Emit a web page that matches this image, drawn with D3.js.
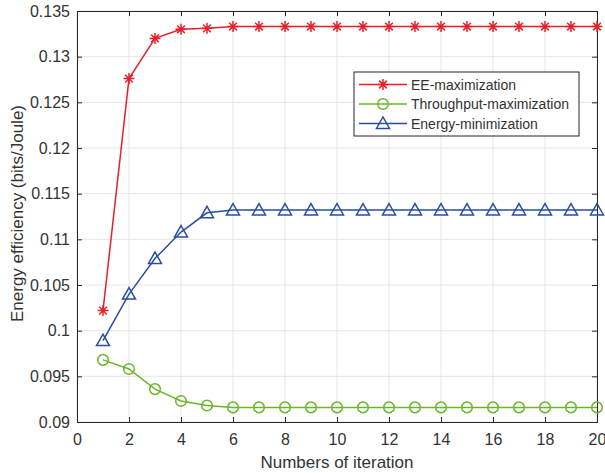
<!DOCTYPE html>
<html><head><meta charset="utf-8">
<script src="https://cdn.jsdelivr.net/npm/d3@7"></script>
<style>body{margin:0;background:#fff;} text{font-family:Arial,"Liberation Sans",sans-serif;}</style>
</head><body>
<svg id="c" width="605" height="473"></svg>
<script>
const iterations = d3.range(1, 21);
const eeMax = [0.1022, 0.1276, 0.1320, 0.1330, 0.1331, 0.1333, 0.1333, 0.1333, 0.1333, 0.1333, 0.1333, 0.1333, 0.1333, 0.1333, 0.1333, 0.1333, 0.1333, 0.1333, 0.1333, 0.1333];
const thrMax = [0.0968, 0.0958, 0.0936, 0.0923, 0.0918, 0.0916, 0.0916, 0.0916, 0.0916, 0.0916, 0.0916, 0.0916, 0.0916, 0.0916, 0.0916, 0.0916, 0.0916, 0.0916, 0.0916, 0.0916];
const enMin = [0.0989, 0.1040, 0.1079, 0.1108, 0.1129, 0.1132, 0.1132, 0.1132, 0.1132, 0.1132, 0.1132, 0.1132, 0.1132, 0.1132, 0.1132, 0.1132, 0.1132, 0.1132, 0.1132, 0.1132];
const xTicks = d3.range(0, 21, 2);
const yTicks = [0.09, 0.095, 0.1, 0.105, 0.11, 0.115, 0.12, 0.125, 0.13, 0.135];
const yTickLabels = ["0.09","0.095","0.1","0.105","0.11","0.115","0.12","0.125","0.13","0.135"];
const seriesNames = ["EE-maximization", "Throughput-maximization", "Energy-minimization"];

const L = 77, R = 597, T = 11, B = 422;
const svg = d3.select("#c");
const x = d3.scaleLinear().domain([0, 20]).range([L, R]);
const y = d3.scaleLinear().domain([0.09, 0.135]).range([B, T]);
const axisCol = "#262626";
const textCol = "#333333";

// grid
const g = svg.append("g");
g.selectAll(".gx").data(xTicks).enter().append("line")
  .attr("x1", d => x(d)).attr("x2", d => x(d)).attr("y1", T).attr("y2", B)
  .attr("stroke", "#e6e6e6").attr("stroke-width", 1);
g.selectAll(".gy").data(yTicks).enter().append("line")
  .attr("y1", d => y(d)).attr("y2", d => y(d)).attr("x1", L).attr("x2", R)
  .attr("stroke", "#e6e6e6").attr("stroke-width", 1);

// axes
const fmtY = (d, i) => yTickLabels[i];
const ax = svg.append("g").attr("transform", `translate(0,${B})`)
  .call(d3.axisBottom(x).tickValues(xTicks).tickSize(-5).tickPadding(12));
const ay = svg.append("g").attr("transform", `translate(${L},0)`)
  .call(d3.axisLeft(y).tickValues(yTicks).tickFormat(fmtY).tickSize(-5).tickPadding(7));
const axT = svg.append("g").attr("transform", `translate(0,${T})`)
  .call(d3.axisTop(x).tickValues(xTicks).tickSize(-5).tickFormat(""));
const ayR = svg.append("g").attr("transform", `translate(${R},0)`)
  .call(d3.axisRight(y).tickValues(yTicks).tickSize(-5).tickFormat(""));
[ax, ay, axT, ayR].forEach(a => {
  a.selectAll("path").attr("stroke", axisCol).attr("stroke-width", 1);
  a.selectAll("line").attr("stroke", axisCol);
  a.selectAll("text").attr("fill", textCol).style("font-size", "16px");
});
ax.selectAll("text").attr("dy", "0.71em");

svg.append("text").attr("x", x(10)).attr("y", 468).attr("text-anchor", "middle")
  .attr("fill", textCol).style("font-size", "17px").text("Numbers of iteration");
svg.append("text").attr("transform", `translate(23,${(T + B) / 2 - 3}) rotate(-90)`)
  .attr("text-anchor", "middle").attr("fill", textCol).style("font-size", "17px")
  .text("Energy efficiency (bits/Joule)");

const colors = ["#e8202a", "#6cb52d", "#2a4ea0"];
const datasets = [eeMax, thrMax, enMin];
const line = d3.line().x((d, i) => x(iterations[i])).y(d => y(d));

function drawMarker(sel, k, cx, cy) {
  const c = colors[k];
  if (k === 0) {
    const s = 5.5;
    const p = `M${cx - s},${cy}L${cx + s},${cy}M${cx},${cy - s}L${cx},${cy + s}` +
      `M${cx - s * 0.7},${cy - s * 0.7}L${cx + s * 0.7},${cy + s * 0.7}M${cx - s * 0.7},${cy + s * 0.7}L${cx + s * 0.7},${cy - s * 0.7}`;
    sel.append("path").attr("d", p).attr("stroke", c).attr("stroke-width", 1.5).attr("fill", "none");
  } else if (k === 1) {
    sel.append("circle").attr("cx", cx).attr("cy", cy).attr("r", 5.3)
      .attr("fill", "none").attr("stroke", c).attr("stroke-width", 1.5);
  } else {
    const h = 6.5;
    sel.append("path").attr("d", `M${cx},${cy - h}L${cx + h},${cy + h * 0.75}L${cx - h},${cy + h * 0.75}Z`)
      .attr("fill", "none").attr("stroke", c).attr("stroke-width", 1.5);
  }
}

datasets.forEach((ds, k) => {
  svg.append("path").datum(ds).attr("d", line).attr("fill", "none")
    .attr("stroke", colors[k]).attr("stroke-width", 1.5);
  const mg = svg.append("g");
  ds.forEach((v, i) => drawMarker(mg, k, x(iterations[i]), y(v)));
});

// legend
const lg = svg.append("g");
lg.append("rect").attr("x", 354).attr("y", 72).attr("width", 225).attr("height", 64)
  .attr("fill", "#fff").attr("stroke", axisCol).attr("stroke-width", 1);
const ly = [84.5, 104, 123.5];
seriesNames.forEach((n, k) => {
  lg.append("line").attr("x1", 359).attr("x2", 407).attr("y1", ly[k]).attr("y2", ly[k])
    .attr("stroke", colors[k]).attr("stroke-width", 1.5);
  drawMarker(lg, k, 383, ly[k]);
  lg.append("text").attr("x", 411).attr("y", ly[k]).attr("dy", "0.36em")
    .attr("fill", textCol).style("font-size", "14px").text(n);
});
</script>
</body></html>
